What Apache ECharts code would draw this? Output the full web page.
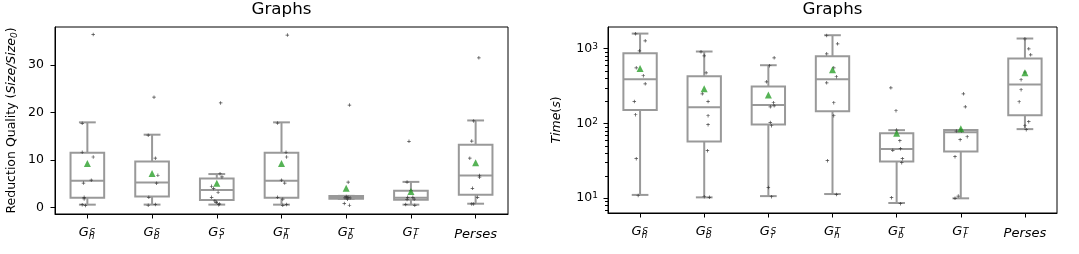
<!DOCTYPE html>
<html><head><meta charset="utf-8">
<script src="https://cdn.jsdelivr.net/npm/echarts@6/dist/echarts.min.js"></script>
<style>html,body{margin:0;padding:0;background:#fff}#c{width:1079px;height:254px}</style>
</head><body><div id="c"></div>
<script>
const categories = ['G_h^S','G_b^S','G_r^S','G_h^T','G_b^T','G_r^T','Perses'];

// [lower whisker, Q1, median, Q3, upper whisker]
const qualityBoxes = [
  [0.55, 2.0, 5.6, 11.5, 17.9],
  [0.56, 2.25, 5.2, 9.65, 15.3],
  [0.56, 1.55, 3.65, 6.05, 7.0],
  [0.55, 2.0, 5.6, 11.5, 17.9],
  [1.75, 1.8, 2.0, 2.4, 2.4],
  [0.55, 1.6, 2.0, 3.5, 5.35],
  [0.75, 2.65, 6.7, 13.2, 18.3]
];
const qualityMeans = [9.2, 7.1, 5.07, 9.2, 4.0, 3.3, 9.4];
const qualityPoints = [
  [36.4, 17.7, 11.6, 10.6, 5.7, 5.1, 2.1, 1.75, 0.55, 0.35],
  [23.2, 15.2, 10.35, 6.75, 5.07, 2.1, 0.42, 0.6],
  [22.0, 7.06, 6.4, 4.43, 3.94, 3.17, 2.1, 1.33, 1.05, 0.55, 0.7],
  [36.3, 17.75, 11.6, 10.6, 5.7, 5.1, 2.1, 1.7, 0.4, 0.6],
  [21.55, 5.28, 2.25, 2.1, 1.95, 1.7, 0.77, 0.42, 2.0, 2.0],
  [13.9, 5.3, 3.5, 2.1, 2.1, 1.65, 1.7, 0.6, 0.4],
  [31.5, 18.2, 13.95, 10.35, 6.7, 6.35, 4.0, 2.1, 0.7, 0.7]
];
const qualityJitter = [
  [0.09, -0.08, -0.08, 0.09, 0.06, -0.06, -0.05, -0.05, -0.08, -0.03],
  [0.03, -0.06, 0.05, 0.09, 0.07, -0.05, -0.06, 0.05],
  [0.06, 0.05, 0.08, -0.08, -0.05, 0.02, -0.08, -0.03, -0.01, 0.03, 0.04],
  [0.09, -0.06, 0.07, 0.08, 0.0, 0.05, -0.06, 0.02, 0.02, 0.08],
  [0.05, 0.03, 0.0, 0.03, 0.06, 0.02, -0.03, 0.05, 0.01, -0.02],
  [-0.03, -0.06, 0.0, -0.05, 0.03, -0.06, 0.05, -0.08, 0.06],
  [0.05, -0.03, -0.06, -0.09, 0.06, 0.06, -0.05, 0.03, -0.06, -0.03]
];
const qualityTicks = [0, 10, 20, 30];

const timeBoxes = [
  [11.0, 150, 389, 865, 1585],
  [10.2, 57, 164, 427, 912],
  [10.6, 96.6, 175, 311, 598],
  [11.3, 145, 389, 789, 1507],
  [8.58, 30.9, 45.2, 73.8, 80.9],
  [9.9, 42, 76, 81, 81],
  [83.5, 128.5, 330, 735, 1361]
];
const timeMeans = [541, 290, 238, 519, 73.8, 84.6, 473];
const timePoints = [
  [1571, 1268, 931, 552, 432, 337, 196, 130, 33.6, 10.8],
  [903, 799, 473, 248, 196, 126, 95.7, 43, 10.4, 10.2],
  [752, 588, 359, 188, 171, 166, 102, 92.7, 13.8, 10.4],
  [1493, 1156, 849, 552, 419, 348, 188, 126, 31.6, 11.1],
  [298, 147, 81, 58.5, 43.4, 45.7, 33.6, 29.7, 10.1, 8.4],
  [248, 166, 78.5, 78.5, 66, 60.3, 35.7, 10.6, 9.9, 82],
  [1349, 991, 824, 482, 382, 281, 194, 105, 92.7, 82]
];
const timeJitter = [
  [-0.07, 0.08, -0.01, -0.06, 0.05, 0.08, -0.09, -0.07, -0.06, -0.03],
  [-0.05, 0.0, 0.03, -0.03, 0.06, 0.06, 0.06, 0.05, 0.0, 0.08],
  [0.09, 0.02, -0.03, 0.08, 0.09, 0.03, 0.03, 0.05, 0.0, 0.05],
  [-0.09, 0.08, -0.09, 0.02, 0.06, -0.09, 0.02, 0.02, -0.08, 0.06],
  [-0.09, -0.01, 0.0, 0.05, -0.06, 0.06, 0.09, 0.08, -0.08, 0.06],
  [0.04, 0.07, -0.07, 0.01, 0.1, -0.01, -0.09, -0.04, -0.09, 0.0],
  [0.0, 0.06, 0.09, 0.0, -0.06, -0.06, -0.09, 0.06, 0.0, 0.02]
];
const timeTicks = [10, 100, 1000];
const timeMinorTicks = [7, 8, 9, 20, 30, 40, 50, 60, 70, 80, 90, 200, 300, 400, 500, 600, 700, 800, 900];

const FONT = 'DejaVu Sans';
const BOX_COLOR = '#999999';

function catLabel(c) {
  const m = c.match(/^(\w)_(\w)\^(\w)$/);
  if (!m) return '{p|' + c + '}';
  return '{g|' + m[1] + '}{sup|' + m[3] + '}\n{sp| }{sub|' + m[2] + '}';
}
const catRich = {
  g: {fontFamily: FONT, fontSize: 13, fontStyle: 'italic', width: 10, lineHeight: 8, color: '#000'},
  sup: {fontFamily: FONT, fontSize: 9, fontStyle: 'italic', width: 7, lineHeight: 0.5, verticalAlign: 'top', color: '#000'},
  sp: {fontFamily: FONT, fontSize: 9, width: 8.5, lineHeight: 1, color: '#000'},
  sub: {fontFamily: FONT, fontSize: 9, fontStyle: 'italic', width: 8.5, lineHeight: 1, color: '#000'},
  p: {fontFamily: FONT, fontSize: 13, fontStyle: 'italic', lineHeight: 0.5, verticalAlign: 'top', color: '#000'}
};

function renderBox(params, api) {
  const i = api.value(0);
  const lo = api.coord([i, api.value(1)]);
  const q1 = api.coord([i, api.value(2)]);
  const med = api.coord([i, api.value(3)]);
  const q3 = api.coord([i, api.value(4)]);
  const hi = api.coord([i, api.value(5)]);
  const bw = api.size([1, 0])[0] * 0.52;
  const x = lo[0];
  const st = {stroke: BOX_COLOR, lineWidth: 2, fill: null};
  const line = (x1, y1, x2, y2) => ({type: 'line', shape: {x1, y1, x2, y2}, style: st});
  return {type: 'group', children: [
    line(x, lo[1], x, q1[1]),
    line(x, q3[1], x, hi[1]),
    line(x - bw / 4, lo[1], x + bw / 4, lo[1]),
    line(x - bw / 4, hi[1], x + bw / 4, hi[1]),
    {type: 'rect', shape: {x: x - bw / 2, y: q3[1], width: bw, height: q1[1] - q3[1]}, style: {stroke: BOX_COLOR, lineWidth: 2, fill: '#fff'}},
    line(x - bw / 2, med[1], x + bw / 2, med[1])
  ]};
}

// minor log ticks, positioned through the log axis scale
function renderMinorTick(params, api) {
  const p = api.coord([api.value(0), api.value(1)]);
  const y = Math.round(p[1]) + 0.5;
  return {type: 'line', shape: {x1: p[0] - 3, y1: y, x2: p[0], y2: y},
          style: {stroke: '#000', lineWidth: 1}};
}

function pts(values, jitter) {
  const out = [];
  values.forEach((arr, i) => arr.forEach((v, j) => out.push([i + jitter[i][j], v])));
  return out;
}

const plusSymbol = 'path://M2,0h1v2h2v1h-2v2h-1v-2h-2v-1h2z';
const axisText = {fontFamily: FONT, fontSize: 12.5, color: '#000'};

function catAxis(gi) {
  return {
    type: 'category', gridIndex: gi, data: categories, boundaryGap: true, position: 'bottom',
    axisLine: {show: true, onZero: false, lineStyle: {color: '#000', width: 1}},
    axisTick: {show: true, alignWithLabel: true, length: 4.5, lineStyle: {color: '#000'}},
    axisLabel: {interval: 0, margin: 14.5, formatter: catLabel, rich: catRich, ...axisText},
    splitLine: {show: false}
  };
}
function jitterAxis(gi) {
  return {type: 'value', gridIndex: gi, min: -0.5, max: 6.5, show: false, position: 'bottom',
          axisLine: {show: false, onZero: false}, splitLine: {show: false}};
}

const option = {
  animation: false,
  backgroundColor: '#fff',
  title: [
    {text: 'Graphs', left: 281.5, top: 1, textAlign: 'center', padding: 0,
     textStyle: {fontFamily: FONT, fontSize: 16.7, fontWeight: 'normal', color: '#000'}},
    {text: 'Graphs', left: 832.5, top: 1, textAlign: 'center', padding: 0,
     textStyle: {fontFamily: FONT, fontSize: 16.7, fontWeight: 'normal', color: '#000'}}
  ],
  grid: [
    {left: 55, top: 27, width: 453, height: 187, show: true, borderColor: '#000', borderWidth: 1, backgroundColor: 'transparent'},
    {left: 608, top: 27, width: 449, height: 186, show: true, borderColor: '#000', borderWidth: 1, backgroundColor: 'transparent'}
  ],
  xAxis: [catAxis(0), jitterAxis(0), catAxis(1), jitterAxis(1)],
  yAxis: [
    {
      type: 'value', gridIndex: 0, min: -1.42, max: 38.0, position: 'left',
      axisLine: {show: true, onZero: false, lineStyle: {color: '#000'}},
      axisTick: {show: true, length: 4.5, customValues: qualityTicks, lineStyle: {color: '#000'}},
      axisLabel: {customValues: qualityTicks, margin: 11, ...axisText},
      splitLine: {show: false},
      name: '{n|Reduction Quality (}{i|Size/Size}{s|0}{n|)}',
      nameLocation: 'middle', nameRotate: 90, nameGap: 36,
      nameTextStyle: {rich: {
        n: {fontFamily: FONT, fontSize: 12.5, color: '#000', lineHeight: 14},
        i: {fontFamily: FONT, fontSize: 12.5, fontStyle: 'italic', color: '#000', lineHeight: 14},
        s: {fontFamily: FONT, fontSize: 9, fontStyle: 'italic', color: '#000', lineHeight: 6, verticalAlign: 'bottom'}
      }}
    },
    {
      type: 'log', logBase: 10, gridIndex: 1, min: 6.3, max: 1941, position: 'left',
      axisLine: {show: true, onZero: false, lineStyle: {color: '#000'}},
      axisTick: {show: true, length: 4.5, customValues: timeTicks, lineStyle: {color: '#000'}},
      axisLabel: {customValues: timeTicks, margin: 10, ...axisText,
        formatter: v => '10{sup|' + Math.round(Math.log10(v)) + '}',
        rich: {sup: {fontFamily: FONT, fontSize: 9, color: '#000', verticalAlign: 'top', lineHeight: 9}}},
      splitLine: {show: false}, minorTick: {show: false},
      name: '{i|Time}{n|(}{i|s}{n|)}',
      nameLocation: 'middle', nameRotate: 90, nameGap: 44,
      nameTextStyle: {rich: {
        n: {fontFamily: FONT, fontSize: 12.5, color: '#000', lineHeight: 14},
        i: {fontFamily: FONT, fontSize: 12.5, fontStyle: 'italic', color: '#000', lineHeight: 14}
      }}
    }
  ],
  series: [
    {type: 'custom', xAxisIndex: 0, yAxisIndex: 0, renderItem: renderBox, z: 2,
     encode: {x: 0, y: [1, 2, 3, 4, 5]},
     data: qualityBoxes.map((b, i) => [i, ...b])},
    {type: 'scatter', xAxisIndex: 1, yAxisIndex: 0, symbol: plusSymbol, symbolSize: 3.5, z: 3,
     itemStyle: {color: '#333', opacity: 0.9}, data: pts(qualityPoints, qualityJitter)},
    {type: 'scatter', xAxisIndex: 1, yAxisIndex: 0, symbol: 'triangle', symbolSize: 7, z: 4,
     itemStyle: {color: '#2ca02c'}, data: qualityMeans.map((m, i) => [i, m])},

    {type: 'custom', xAxisIndex: 2, yAxisIndex: 1, renderItem: renderBox, z: 2,
     encode: {x: 0, y: [1, 2, 3, 4, 5]},
     data: timeBoxes.map((b, i) => [i, ...b])},
    {type: 'scatter', xAxisIndex: 3, yAxisIndex: 1, symbol: plusSymbol, symbolSize: 3.5, z: 3,
     itemStyle: {color: '#333', opacity: 0.9}, data: pts(timePoints, timeJitter)},
    {type: 'scatter', xAxisIndex: 3, yAxisIndex: 1, symbol: 'triangle', symbolSize: 7, z: 4,
     itemStyle: {color: '#2ca02c'}, data: timeMeans.map((m, i) => [i, m])},
    {type: 'custom', xAxisIndex: 3, yAxisIndex: 1, renderItem: renderMinorTick, z: 5, silent: true, clip: false,
     encode: {x: 0, y: 1},
     data: timeMinorTicks.map(v => [-0.5, v])}
  ]
};

const chart = echarts.init(document.getElementById('c'), null, {renderer: 'canvas'});
chart.setOption(option);
</script>
</body></html>
